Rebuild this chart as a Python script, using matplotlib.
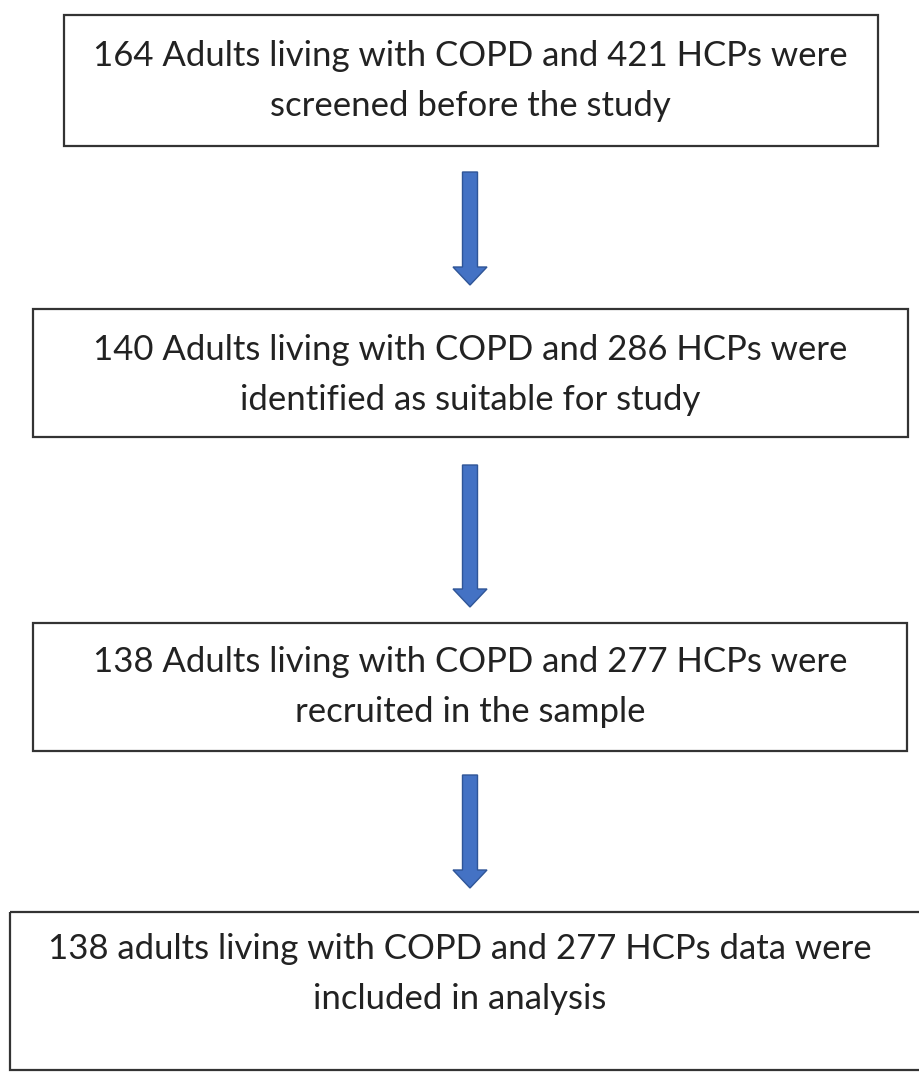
import matplotlib.pyplot as plt
from matplotlib.patches import Rectangle, FancyArrow

# flow chart content
box_texts = [
    "164 Adults living with COPD and 421 HCPs were\nscreened before the study",
    "140 Adults living with COPD and 286 HCPs were\nidentified as suitable for study",
    "138 Adults living with COPD and 277 HCPs were\nrecruited in the sample",
    "138 adults living with COPD and 277 HCPs data were\nincluded in analysis",
]

# box layout in pixels: left, top, right, bottom
boxes = [(64, 15, 878, 146), (33, 309, 908, 437), (33, 623, 907, 751), (10, 912, 930, 1070)]
text_pos = [(470, 81), (470, 375), (470, 687), (460, 974)]
arrows = [(470, 172, 285), (470, 465, 607), (470, 775, 888)]

fig = plt.figure(figsize=(9.2, 10.72), dpi=100)
ax = fig.add_axes([0, 0, 1, 1])
ax.set_xlim(0, 920)
ax.set_ylim(1072, 0)
ax.axis('off')

for (l, t, r, b), txt, (tx, ty) in zip(boxes, box_texts, text_pos):
    ax.add_patch(Rectangle((l, t), r - l, b - t, fill=False, edgecolor='#333333', linewidth=1.6))
    ax.text(tx, ty, txt, ha='center', va='center', fontsize=25, family='Lato',
            color='#222222', linespacing=1.68)

for x, y0, y1 in arrows:
    ax.add_patch(FancyArrow(x, y0, 0, y1 - y0, width=15, head_width=34, head_length=18,
                            length_includes_head=True, facecolor='#4472C4',
                            edgecolor='#2F5597', linewidth=1))

fig.savefig('out.png', dpi=100)
